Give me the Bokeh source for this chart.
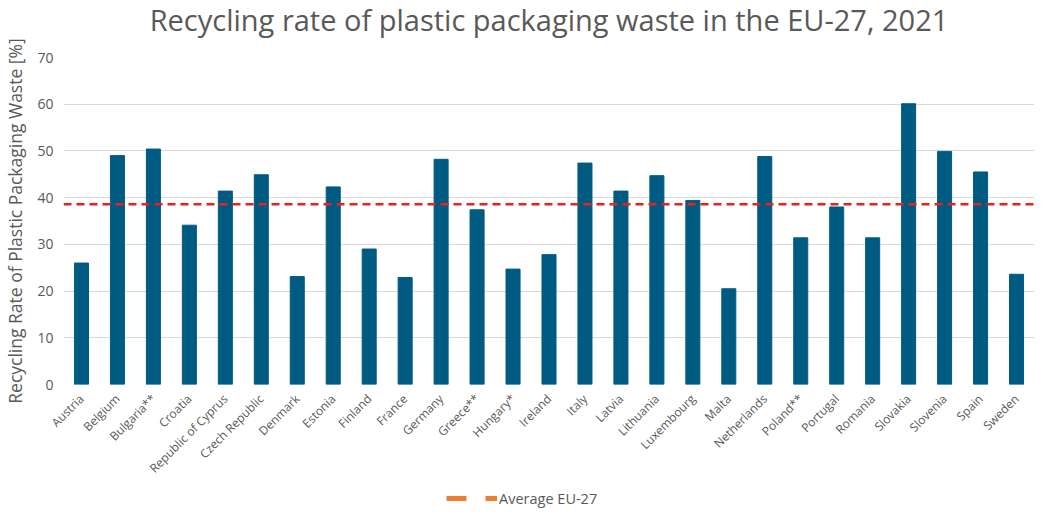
from bokeh.plotting import figure
from bokeh.models import ColumnDataSource, Span, Legend, LegendItem, Range1d, Label
from bokeh.layouts import column
from bokeh.embed import file_html
from bokeh.resources import INLINE
import math

title_text = "Recycling rate of plastic packaging waste in the EU-27, 2021"
countries = ["Austria", "Belgium", "Bulgaria**", "Croatia", "Republic of Cyprus", "Czech Republic",
             "Denmark", "Estonia", "Finland", "France", "Germany", "Greece**", "Hungary*", "Ireland",
             "Italy", "Latvia", "Lithuania", "Luxembourg", "Malta", "Netherlands", "Poland**",
             "Portugal", "Romania", "Slovakia", "Slovenia", "Spain", "Sweden"]
rates = [26.0, 49.0, 50.4, 34.1, 41.4, 44.9, 23.1, 42.3, 29.0, 22.9, 48.2, 37.4, 24.7, 27.8,
         47.4, 41.4, 44.7, 39.4, 20.5, 48.8, 31.4, 38.0, 31.4, 60.1, 49.9, 45.5, 23.6]
average_eu27 = 38.6
y_ticks = [0, 10, 20, 30, 40, 50, 60, 70]

FONT = "Open Sans"
GREY = "#595959"
W = 1036

# title strip
tf = figure(width=W, height=38, x_range=Range1d(0, 1), y_range=Range1d(0, 1),
            output_backend="svg", toolbar_location=None, min_border=0, outline_line_color=None)
tf.axis.visible = False
tf.grid.visible = False
tf.add_layout(Label(x=0.5, y=0.5, text=title_text, text_align="center", text_baseline="middle",
                    text_font=FONT, text_font_size="29px", text_color=GREY))

# main chart
p = figure(x_range=countries, y_range=Range1d(0, 70), width=W, height=447,
           output_backend="svg", toolbar_location=None,
           min_border_left=54, min_border_right=2, min_border_top=19, min_border_bottom=101)

src = ColumnDataSource(dict(country=countries, rate=rates))
p.vbar(x="country", top="rate", width=0.39, source=src, color="#005B82")

avg_span = Span(location=average_eu27, dimension="width", line_color="#E8231F",
                line_width=2.5, line_dash="8 5")
p.add_layout(avg_span)

p.yaxis.ticker = y_ticks
p.yaxis.axis_label = "Recycling Rate of Plastic Packaging Waste [%]"
p.yaxis.axis_label_text_font = FONT
p.yaxis.axis_label_text_font_size = "17.5px"
p.yaxis.axis_label_text_font_style = "normal"
p.yaxis.axis_label_text_color = GREY
p.yaxis.axis_label_standoff = 7

for ax in (p.xaxis, p.yaxis):
    ax.axis_line_color = None
    ax.major_tick_line_color = None
    ax.minor_tick_line_color = None
    ax.major_tick_out = 0
    ax.major_tick_in = 0
    ax.major_label_text_font = FONT
    ax.major_label_text_color = GREY

p.yaxis.major_label_text_font_size = "14px"
p.yaxis.major_label_standoff = 10
p.xaxis.major_label_text_font_size = "12px"
p.xaxis.major_label_orientation = math.pi / 4
p.xaxis.major_label_standoff = 12

p.xgrid.grid_line_color = None
p.ygrid.grid_line_color = "#D9D9D9"
p.ygrid.grid_line_width = 1
p.outline_line_color = None

# legend strip
lg = figure(width=W, height=23, x_range=Range1d(0, 1), y_range=Range1d(0, 1),
            output_backend="svg", toolbar_location=None,
            min_border=0, outline_line_color=None)
lg.axis.visible = False
lg.grid.visible = False
legend_src = ColumnDataSource(dict(x=[2, 3], y=[average_eu27, average_eu27]))
leg_r = lg.line(x="x", y="y", source=legend_src, line_color="#ED7D31", line_width=5,
                line_dash="20 19")
legend = Legend(items=[LegendItem(label="Average EU-27", renderers=[leg_r])],
                orientation="horizontal", location=(383, 0),
                border_line_color=None, background_fill_alpha=0,
                label_text_font=FONT, label_text_font_size="14.5px", label_text_color=GREY,
                glyph_width=51, label_standoff=2, padding=0, margin=0)
lg.add_layout(legend, "center")

layout = column(tf, p, lg, spacing=0)
open("out.html", "w").write(file_html(layout, INLINE))
